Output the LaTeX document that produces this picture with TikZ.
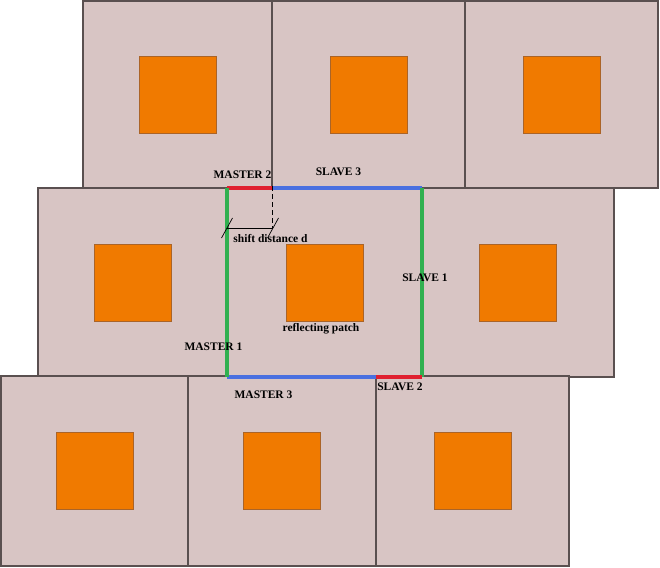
\documentclass[tikz,border=0pt]{standalone}
\usepackage{fontspec}
\setmainfont{Liberation Serif}
\usetikzlibrary{positioning}

\definecolor{cellfill}{RGB}{216,197,196}
\definecolor{cellline}{RGB}{90,80,80}
\definecolor{patchfill}{RGB}{240,122,0}
\definecolor{patchline}{RGB}{170,100,40}
\definecolor{edgered}{RGB}{224,32,48}
\definecolor{edgeblue}{RGB}{74,112,224}
\definecolor{edgegreen}{RGB}{48,176,80}

\tikzset{
  cell/.style={draw=cellline,fill=cellfill,line width=1.1pt,inner sep=0pt,outer sep=0pt},
  patch/.style={draw=patchline,fill=patchfill,line width=0.5pt,inner sep=0pt,minimum size=77pt},
  lbl/.style={font=\fontsize{11.5}{13}\selectfont\bfseries,anchor=base,inner sep=0pt},
  bnd/.style={line width=4pt},
  dim/.style={line width=0.7pt}
}

\begin{document}
\begin{tikzpicture}[x=1pt,y=-1pt]
      \useasboundingbox (0,0) rectangle (660,567);
      % unit cells, top / middle / bottom row
      \foreach \n/\cx/\cy/\w/\h in {c11/177.5/94.5/189/187, c12/368.5/94.5/193/187, c13/561.5/94.5/193/187,
                                   c21/132.5/282.5/189/189, c22/324.5/282.5/195/189, c23/518/282.5/192/189,
                                   c31/94.5/471/187/190, c32/282/471/188/190, c33/472.5/471/193/190}{
        \node[cell,minimum width=\w pt,minimum height=\h pt] (\n) at (\cx,\cy) {};
        \node[patch] (p\n) at (\n.center) {};
      }
      % boundaries of the central cell
      \coordinate (m2a) at (c22.north west);
      \coordinate (m2b) at (c11.south east |- c22.north);
      \coordinate (s3b) at (c22.north east);
      \coordinate (s2a) at (c22.south east);
      \coordinate (s2b) at (c32.north east |- c22.south east);
      \coordinate (m3a) at (c22.south west);
      \draw[bnd,edgered] (m2a) -- (m2b);
      \draw[bnd,edgeblue] (m2b) -- (s3b);
      \draw[bnd,edgegreen] (s3b) -- (s2a);
      \draw[bnd,edgered] (s2a) -- (s2b);
      \draw[bnd,edgeblue] (s2b) -- (m3a);
      \draw[bnd,edgegreen] (m3a) -- (m2a);
      % shift distance
      \coordinate (dl) at (227,228);
      \coordinate (dr) at (273,228);
      \draw[dim,dashed,dash pattern=on 5pt off 3pt] ([yshift=2pt]m2b) -- (m2b |- dr);
      \draw[dim] (dl) -- (dr);
      \draw[dim] ([shift={(-5.5,10)}]dl) -- ([shift={(5.5,-10)}]dl);
      \draw[dim] ([shift={(-5.5,10)}]dr) -- ([shift={(5.5,-10)}]dr);
      % labels
      \node[lbl] (lm2) at (242.5,178) {MASTER 2};
      \node[lbl] (ls3) at (338.5,175) {SLAVE 3};
      \node[lbl] (lsd) at (270.5,242) {shift distance d};
      \node[lbl] (ls1) at (425,281) {SLAVE 1};
      \node[lbl] (lrp) at (321,331) {reflecting patch};
      \node[lbl] (lm1) at (213.5,350) {MASTER 1};
      \node[lbl] (lm3) at (263.5,398) {MASTER 3};
      \node[lbl] (ls2) at (400,390) {SLAVE 2};
\end{tikzpicture}
\end{document}
